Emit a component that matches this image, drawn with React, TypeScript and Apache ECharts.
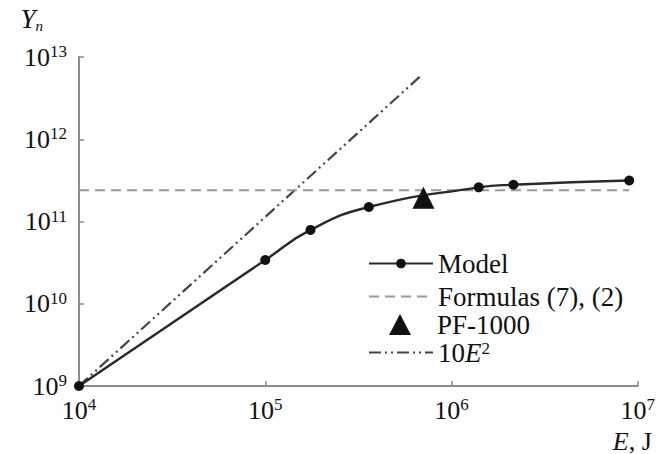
import React, { useEffect, useRef } from 'react';
import * as echarts from 'echarts';

// ---- data ----
const modelE = [1e4, 1e5, 1.75e5, 3.6e5, 1.4e6, 2.15e6, 9.0e6];
const modelY = [1e9, 3.4e10, 7.9e10, 1.5e11, 2.6e11, 2.8e11, 3.15e11];
const formulaE = [1e4, 9.0e6];
const formulaY = [2.4e11, 2.4e11];
const pf1000E = [7.07e5];
const pf1000Y = [1.95e11];
const e2E = [1e4, 6.84e5];
const e2Y = [1e9, 5.9e12];
const xTickExps = [4, 5, 6, 7];
const yTickExps = [9, 10, 11, 12, 13];

const FONT = '"Liberation Serif", "DejaVu Serif", serif';
const TXT = '#111';
const AXIS = '#8c8c8c';

const zip = (a: number[], b: number[]) => a.map((v, i) => [v, b[i]]);

const supRich = {
  b: { fontSize: 26, fontFamily: FONT, color: TXT, lineHeight: 28 },
  s: { fontSize: 17, fontFamily: FONT, color: TXT, verticalAlign: 'top', lineHeight: 17 },
};

const expLabel = (exps: number[]) => (v: number) => {
  const e = Math.round(Math.log10(v));
  return exps.includes(e) ? `{b|10}{s|${e}}` : '';
};

export default function App() {
  const ref = useRef<HTMLDivElement>(null);
  useEffect(() => {
    if (!ref.current) return;
    const chart = echarts.init(ref.current, undefined, { renderer: 'svg' });
    const legendBase = {
      orient: 'vertical',
      left: 368,
      itemWidth: 64,
      itemGap: 5,
      padding: 0,
      textStyle: {
        fontSize: 27,
        fontFamily: FONT,
        color: TXT,
        lineHeight: 26,
        rich: {
          i: { fontSize: 27, fontFamily: FONT, color: TXT, fontStyle: 'italic', lineHeight: 26 },
          sup: { fontSize: 17, fontFamily: FONT, color: TXT, verticalAlign: 'top', lineHeight: 17 },
          sp: { width: 21, lineHeight: 26 },
        },
      },
      formatter: (name: string) =>
        name === '10E2' ? '10{i|E}{sup|2}' : name === 'PF-1000' ? '{sp|}PF-1000' : name,
    };
    chart.setOption({
      animation: false,
      backgroundColor: '#fff',
      grid: { left: 79, right: 15, top: 57, bottom: 67, containLabel: false },
      legend: [
        { ...legendBase, top: 250, itemHeight: 12, data: ['Model'] },
        { ...legendBase, top: 283, itemHeight: 12, data: [{ name: 'Formulas (7), (2)', itemStyle: { opacity: 0 } }] },
        { ...legendBase, left: 389, top: 311, itemWidth: 22, itemHeight: 21, data: ['PF-1000'] },
        { ...legendBase, top: 339, itemHeight: 12, data: [{ name: '10E2', itemStyle: { opacity: 0 } }] },
      ],
      xAxis: {
        type: 'log',
        logBase: 10,
        min: 1e4,
        max: 1e7,
        name: '{i|E}, J',
        nameLocation: 'end',
        nameGap: 14,
        nameTextStyle: {
          align: 'right',
          verticalAlign: 'top',
          padding: [42, 0, 0, 0],
          fontSize: 26,
          fontFamily: FONT,
          color: TXT,
          rich: { i: { fontStyle: 'italic', fontSize: 26, fontFamily: FONT, color: TXT } },
        },
        axisLine: { lineStyle: { color: AXIS, width: 2 } },
        axisTick: { inside: true, length: 5, lineStyle: { color: AXIS, width: 1.5 } },
        minorTick: { show: false },
        splitLine: { show: false },
        axisLabel: { margin: 10, formatter: expLabel(xTickExps), rich: supRich },
      },
      yAxis: {
        type: 'log',
        logBase: 10,
        min: 1e9,
        max: 1e13,
        name: '{i|Y}{sub|n}',
        nameLocation: 'end',
        nameGap: 24,
        nameTextStyle: {
          align: 'right',
          padding: [0, 36, 0, 0],
          rich: {
            i: { fontStyle: 'italic', fontSize: 27, fontFamily: FONT, color: TXT, lineHeight: 28 },
            sub: { fontStyle: 'italic', fontSize: 15, fontFamily: FONT, color: TXT, verticalAlign: 'bottom', lineHeight: 15 },
          },
        },
        axisLine: { show: true, lineStyle: { color: AXIS, width: 2 } },
        axisTick: { show: true, inside: true, length: 5, lineStyle: { color: AXIS, width: 1.5 } },
        splitLine: { show: false },
        axisLabel: { margin: 12, formatter: expLabel(yTickExps), rich: supRich },
      },
      series: [
        {
          name: '10E2',
          type: 'line',
          data: zip(e2E, e2Y),
          symbol: 'none',
          lineStyle: { color: '#444', width: 2.2, type: [12, 4, 2, 4, 2, 4] },
          itemStyle: { color: '#444' },
          z: 1,
        },
        {
          name: 'Formulas (7), (2)',
          type: 'line',
          data: zip(formulaE, formulaY),
          symbol: 'none',
          lineStyle: { color: '#999', width: 2, type: [10, 6] },
          itemStyle: { color: '#999' },
          z: 2,
        },
        {
          name: 'Model',
          type: 'line',
          data: zip(modelE, modelY),
          smooth: 0.5,
          symbol: 'circle',
          symbolSize: 10,
          lineStyle: { color: '#2a2a2a', width: 2.4 },
          itemStyle: { color: '#111', opacity: 1 },
          z: 3,
        },
        {
          name: 'PF-1000',
          type: 'scatter',
          data: zip(pf1000E, pf1000Y),
          symbol: 'triangle',
          symbolSize: 22,
          itemStyle: { color: '#111', opacity: 1 },
          z: 4,
        },
      ],
    });
    return () => chart.dispose();
  }, []);
  return (
    <div
      ref={ref}
      style={{ position: 'fixed', left: 0, top: 0, width: 658, height: 454, background: '#fff' }}
    />
  );
}
